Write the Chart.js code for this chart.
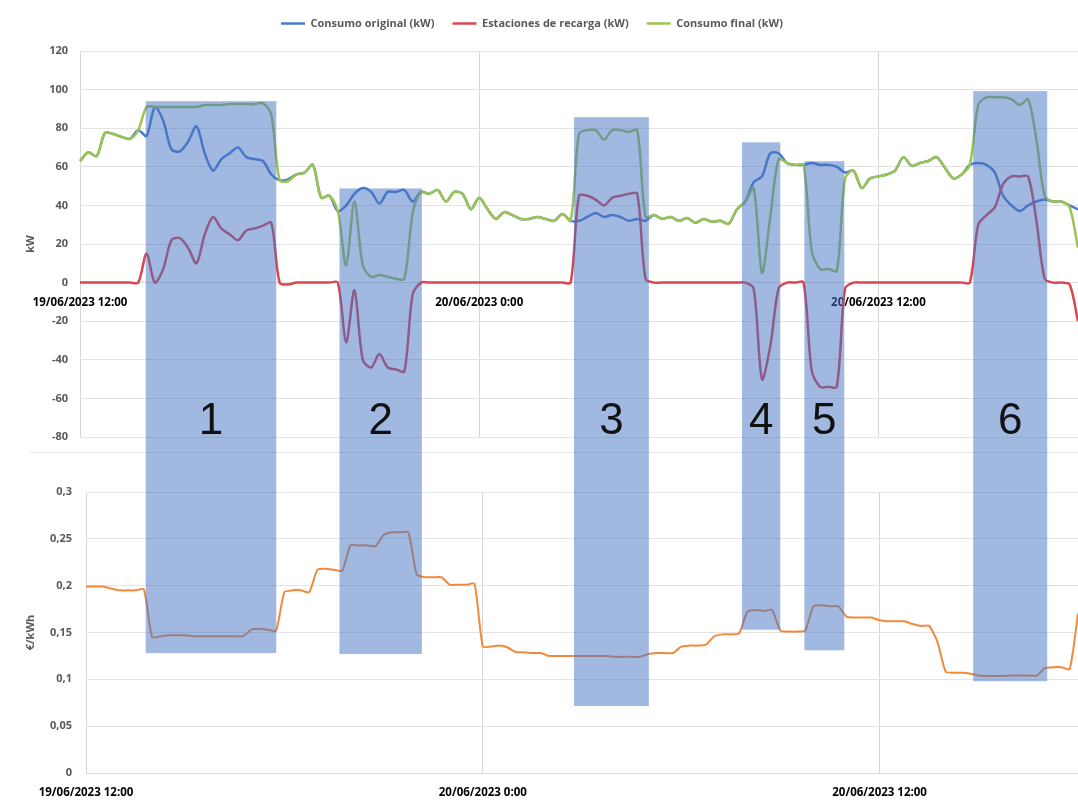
<!DOCTYPE html>
<html>
<head>
<meta charset="utf-8">
<script src="https://cdn.jsdelivr.net/npm/chart.js@4.4.0/dist/chart.umd.min.js"></script>
<style>
  html, body { margin: 0; padding: 0; background: #fff; }
  #wrap { position: relative; width: 1078px; height: 800px; overflow: hidden; }
  #top { position: absolute; left: 0; top: 0; }
  #bottom { position: absolute; left: 0; top: 455px; }
  #sep { position: absolute; left: 30px; top: 452px; width: 1048px; height: 1px; background: #e4e4e4; }
  #overlay { position: absolute; left: 0; top: 0; pointer-events: none; }
</style>
</head>
<body>
<div id="wrap">
  <canvas id="top" width="1078" height="450"></canvas>
  <div id="sep"></div>
  <canvas id="bottom" width="1078" height="345"></canvas>
  <canvas id="overlay" width="1078" height="800"></canvas>
</div>
<script>
// time axis: 19/06/2023 12:00 -> 20/06/2023 18:00, every 15 min
const times = [];
for (let i = 0; i <= 120; i++) {
  const h = 12 + i / 4;
  const day = h >= 24 ? '20/06/2023' : '19/06/2023';
  const hh = Math.floor(h % 24);
  const mm = (i % 4) * 15;
  times.push(day + ' ' + hh + ':' + String(mm).padStart(2, '0'));
}

// Consumo original (kW)
const consumoOriginal = [
  63, 67.5, 65.5, 77.5, 77, 75.5, 74.5, 79, 76, 91,
  84, 69, 68, 73, 81, 67, 58, 64, 67, 70,
  65, 64, 63, 56, 53, 53.5, 56, 57, 61, 44,
  45, 37, 40, 46, 49, 47, 41, 47, 47, 48,
  42, 47, 46, 48, 42, 47, 46, 38, 44, 38,
  33, 36.5, 35, 33, 33, 34, 33, 32, 35.5, 32,
  32, 34, 36, 34, 35, 34, 32, 33, 32, 35,
  33, 34, 32, 33.5, 31, 33, 31.5, 32, 30.5, 38,
  42, 52, 55, 67, 67, 62, 61, 61, 62, 61,
  61, 60, 57, 58, 49, 54, 55, 56, 58, 65,
  60.5, 62, 63, 65, 59.5, 54, 56, 61, 62, 61,
  57, 45, 40, 37, 40, 42, 43, 42, 42, 40,
  38
];

// Estaciones de recarga (kW)
const estacionesRecarga = [
  0, 0, 0, 0, 0, 0, 0, 0, 15, 0,
  7, 22, 23, 18, 10, 25, 34, 28, 25, 22,
  27, 28, 29.5, 31, 0, -1, 0, 0, 0, 0,
  0, 0, -31, -4, -40, -44, -37, -44, -45, -46,
  -6, 0, 0, 0, 0, 0, 0, 0, 0, 0,
  0, 0, 0, 0, 0, 0, 0, 0, 0, 0,
  45, 45, 43, 40, 44, 45, 46, 46, 2, 0,
  0, 0, 0, 0, 0, 0, 0, 0, 0, 0,
  0, -3, -50, -33, -3, 0, 0, 0, -46, -54,
  -54, -54, -3, 0, 0, 0, 0, 0, 0, 0,
  0, 0, 0, 0, 0, 0, 0, 0, 30, 35,
  39, 51, 55, 55, 55, 32, 2, 0, 0, -1,
  -20
];

// Consumo final (kW)
const consumoFinal = [
  63, 67.5, 65.5, 77.5, 77, 75.5, 74.5, 79, 91, 91,
  91, 91, 91, 91, 91, 92, 92, 92, 92.5, 92.5,
  92.5, 92.5, 93, 87, 53, 52.5, 56, 57, 61, 44,
  45, 37, 9, 42, 9, 3, 4, 3, 2, 2,
  36, 47, 46, 48, 42, 47, 46, 38, 44, 38,
  33, 36.5, 35, 33, 33, 34, 33, 32, 35.5, 32,
  77, 79, 79, 74, 79, 79, 78, 79, 34, 35,
  33, 34, 32, 33.5, 31, 33, 31.5, 32, 30.5, 38,
  42, 49, 5, 34, 64, 62, 61, 61, 16, 7,
  7, 6, 54, 58, 49, 54, 55, 56, 58, 65,
  60.5, 62, 63, 65, 59.5, 54, 56, 61, 92, 96,
  96, 96, 95, 92, 95, 74, 45, 42, 42, 39,
  18
];

// precio (€/kWh)
const precio = [
  0.199, 0.199, 0.199, 0.197, 0.195, 0.195, 0.195, 0.196, 0.145, 0.146,
  0.147, 0.147, 0.147, 0.146, 0.146, 0.146, 0.146, 0.146, 0.146, 0.146,
  0.153, 0.154, 0.153, 0.152, 0.193, 0.195, 0.195, 0.193, 0.217, 0.218,
  0.217, 0.216, 0.243, 0.243, 0.243, 0.242, 0.254, 0.257, 0.257, 0.257,
  0.212, 0.209, 0.209, 0.209, 0.201, 0.201, 0.201, 0.202, 0.135, 0.135,
  0.136, 0.134, 0.129, 0.129, 0.128, 0.128, 0.125, 0.125, 0.125, 0.125,
  0.125, 0.125, 0.125, 0.125, 0.124, 0.124, 0.124, 0.124, 0.127, 0.128,
  0.128, 0.128, 0.135, 0.136, 0.136, 0.137, 0.146, 0.148, 0.148, 0.149,
  0.172, 0.174, 0.173, 0.174, 0.152, 0.151, 0.151, 0.152, 0.178, 0.179,
  0.178, 0.178, 0.167, 0.166, 0.166, 0.166, 0.163, 0.162, 0.162, 0.162,
  0.159, 0.157, 0.157, 0.14, 0.108, 0.107, 0.107, 0.106, 0.104, 0.1035,
  0.1035, 0.1035, 0.104, 0.104, 0.104, 0.104, 0.112, 0.113, 0.113, 0.111,
  0.17
];

// highlighted periods (x in time steps, top in kW, bottom in €/kWh)
const zonaLabels = ['1', '2', '3', '4', '5', '6'];
const zonaInicio = [7.9, 31.2, 59.4, 79.6, 87.1, 107.4];
const zonaFin = [23.6, 41.1, 68.4, 84.2, 91.9, 116.3];
const zonaTopeKW = [94, 48.8, 85.7, 72.7, 62.9, 99.2];
const zonaFondoPrecio = [0.128, 0.127, 0.0715, 0.153, 0.131, 0.098];
const zonaLabelKW = -72;

Chart.defaults.font.family = 'Open Sans';

const tickFont = { family: 'Open Sans', weight: 'bold', size: 11 };
const dateFont = { family: 'Open Sans', weight: 'bold', size: 11.5 };
const gridColor = '#e3e3e3';

function dateTick(v, i) {
  return i % 48 === 0 ? this.getLabelForValue(v) : '';
}
function dateGrid(c) {
  return c.index % 48 === 0 ? '#d6d6d6' : 'rgba(0,0,0,0)';
}
// let the lines run to the right edge
function noRightPad(s) { s.paddingRight = 0; }

// legend: fixed height, nudged a bit to the left
const legendTweak = {
  id: 'legendTweak',
  beforeInit(chart) {
    const fit = chart.legend.fit;
    chart.legend.fit = function () {
      fit.call(this);
      this.height = 51;
    };
  },
  afterLayout(chart) {
    chart.legend.left -= 17;
    chart.legend.right -= 17;
  }
};

const topChart = new Chart(document.getElementById('top'), {
  type: 'line',
  data: {
    labels: times,
    datasets: [
      { label: 'Consumo original (kW)', data: consumoOriginal, borderColor: '#4a7cc8', backgroundColor: '#4a7cc8', borderWidth: 2.5, order: 2 },
      { label: 'Estaciones de recarga (kW)', data: estacionesRecarga, borderColor: '#d9474f', backgroundColor: '#d9474f', borderWidth: 2.5, order: 1 },
      { label: 'Consumo final (kW)', data: consumoFinal, borderColor: '#9cc452', backgroundColor: '#9cc452', borderWidth: 2.5, order: 0 }
    ]
  },
  options: {
    responsive: false,
    animation: false,
    elements: { point: { radius: 0 }, line: { tension: 0.3 } },
    layout: { padding: { left: 20, right: 0, top: 0, bottom: 13 } },
    plugins: {
      legend: {
        labels: {
          usePointStyle: true,
          pointStyle: 'line',
          pointStyleWidth: 24,
          padding: 18,
          color: '#595959',
          font: { family: 'Open Sans', weight: 'bold', size: 11 },
          sort: (a, b) => a.datasetIndex - b.datasetIndex
        }
      },
      tooltip: { enabled: false }
    },
    scales: {
      x: {
        type: 'category',
        position: { y: 0 },
        offset: false,
        grid: { color: dateGrid, drawTicks: false },
        border: { color: '#d9d9d9' },
        ticks: { autoSkip: false, maxRotation: 0, padding: 13, color: '#000', font: dateFont, callback: dateTick },
        afterFit: noRightPad
      },
      y: {
        min: -80,
        max: 120,
        ticks: { stepSize: 20, padding: 12, color: '#595959', font: tickFont },
        grid: { color: gridColor, drawTicks: false },
        border: { display: false },
        title: { display: true, text: 'kW', color: '#595959', font: tickFont },
        afterFit(s) { s.width = 60; s.paddingTop = 0; s.paddingBottom = 0; }
      }
    }
  },
  plugins: [legendTweak]
});

const bottomChart = new Chart(document.getElementById('bottom'), {
  type: 'line',
  data: {
    labels: times,
    datasets: [
      { label: '€/kWh', data: precio, borderColor: '#f08a3c', backgroundColor: '#f08a3c', borderWidth: 2 }
    ]
  },
  options: {
    responsive: false,
    animation: false,
    elements: { point: { radius: 0 }, line: { tension: 0.2 } },
    layout: { padding: { left: 20, right: 0, top: 37, bottom: 0 } },
    plugins: { legend: { display: false }, tooltip: { enabled: false } },
    scales: {
      x: {
        type: 'category',
        offset: false,
        grid: { color: dateGrid, drawTicks: false },
        border: { color: '#d9d9d9' },
        ticks: { autoSkip: false, maxRotation: 0, padding: 13, color: '#000', font: dateFont, callback: dateTick },
        afterFit(s) { s.paddingRight = 0; s.height = 27; }
      },
      y: {
        min: 0,
        max: 0.3,
        ticks: {
          stepSize: 0.05, padding: 14, color: '#595959', font: tickFont,
          callback: v => String(+v.toFixed(2)).replace('.', ',')
        },
        grid: { color: gridColor, drawTicks: false },
        border: { display: false },
        title: { display: true, text: '€/kWh', color: '#595959', font: tickFont },
        afterFit(s) { s.width = 66; }
      }
    }
  }
});

// blue boxes over both charts
function drawZones() {
  const ov = document.getElementById('overlay');
  const ctx = ov.getContext('2d');
  const off = document.getElementById('bottom').offsetTop;
  const xs = topChart.scales.x;
  const ys = topChart.scales.y;
  const yb = bottomChart.scales.y;
  ctx.font = '44px "Liberation Sans", Arial, sans-serif';
  ctx.textAlign = 'center';
  ctx.textBaseline = 'middle';
  for (let k = 0; k < zonaLabels.length; k++) {
    const x0 = xs.getPixelForValue(zonaInicio[k]);
    const x1 = xs.getPixelForValue(zonaFin[k]);
    const y0 = ys.getPixelForValue(zonaTopeKW[k]);
    const y1 = off + yb.getPixelForValue(zonaFondoPrecio[k]);
    ctx.fillStyle = 'rgba(68,114,196,0.5)';
    ctx.fillRect(x0, y0, x1 - x0, y1 - y0);
    ctx.fillStyle = '#111';
    ctx.fillText(zonaLabels[k], (x0 + x1) / 2, ys.getPixelForValue(zonaLabelKW));
  }
}
drawZones();
</script>
</body>
</html>
